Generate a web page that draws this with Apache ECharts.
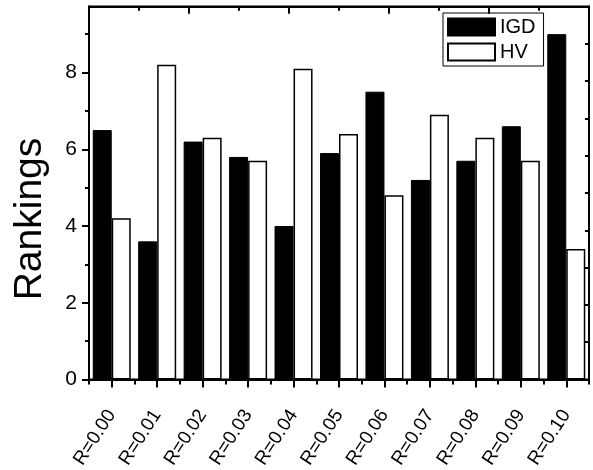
<!DOCTYPE html>
<html>
<head>
<meta charset="utf-8">
<script src="https://cdn.jsdelivr.net/npm/echarts@6/dist/echarts.min.js"></script>
<style>
html,body{margin:0;padding:0;background:#fff;}
#chart{width:593px;height:470px;}
</style>
</head>
<body>
<div id="chart"></div>
<script>
const categories = ['R=0.00','R=0.01','R=0.02','R=0.03','R=0.04','R=0.05','R=0.06','R=0.07','R=0.08','R=0.09','R=0.10'];
const igd = [6.5, 3.6, 6.2, 5.8, 4.0, 5.9, 7.5, 5.2, 5.7, 6.6, 9.0];
const hv  = [4.2, 8.2, 6.3, 5.7, 8.1, 6.4, 4.8, 6.9, 6.3, 5.7, 3.4];
const yMajorTicks = [0, 2, 4, 6, 8];
const yMinorTicks = [1, 3, 5, 7, 9];
const topMajorTicks = [2, 4, 6, 8];
const topMinorTicks = [1, 3, 5, 7, 9];
const yName = 'Rankings';

const FONT = "'Liberation Sans', Arial, Helvetica, sans-serif";
const chart = echarts.init(document.getElementById('chart'), null, {renderer: 'canvas'});
const lineStyle = {color: '#000', width: 2};
const Y_MAX = 9.72;

const titleGraphic = {
  id: 'ytitle', type: 'text',
  x: 30, y: 219,
  rotation: Math.PI / 2,
  style: {text: yName, fontSize: 39, fontFamily: FONT, fill: '#000', textAlign: 'center', textVerticalAlign: 'middle'}
};

chart.setOption({
  animation: false,
  backgroundColor: '#fff',
  textStyle: {fontFamily: FONT, color: '#000'},
  grid: {left: 89, right: 4, top: 6.5, bottom: 90.5, containLabel: false, outerBoundsMode: 'none',
         show: true, borderColor: '#000', borderWidth: 2, backgroundColor: 'transparent'},
  legend: {
    orient: 'vertical',
    left: 443, top: 13,
    borderColor: '#000', borderWidth: 1, borderRadius: 0,
    padding: [4, 8, 4, 4],
    itemWidth: 47, itemHeight: 17, itemGap: 5,
    icon: 'rect',
    textStyle: {fontFamily: FONT, fontSize: 20, color: '#000', padding: [0, 0, 0, 0]},
    data: ['IGD', 'HV']
  },
  xAxis: [
    {
      type: 'category', data: categories, position: 'bottom', z: 10,
      axisLine: {show: true, onZero: false, lineStyle: lineStyle},
      axisTick: {show: true, alignWithLabel: true, interval: 0, length: 8, lineStyle: lineStyle},
      axisLabel: {interval: 0, rotate: 57, fontSize: 19, fontFamily: FONT, color: '#000', margin: 32},
      splitLine: {show: false}
    },
    {
      type: 'category', data: categories, position: 'bottom', z: 10,
      axisLine: {show: false, onZero: false},
      axisTick: {show: true, interval: 0, length: 5, lineStyle: lineStyle},
      axisLabel: {show: false},
      splitLine: {show: false}
    },
    {
      type: 'value', position: 'top', min: 0, max: 10, interval: 2, z: 10,
      axisLine: {show: true, onZero: false, lineStyle: lineStyle},
      axisTick: {show: true, inside: true, length: 7, lineStyle: lineStyle},
      minorTick: {show: true, splitNumber: 2, length: 4, lineStyle: {color: '#000', width: 2}},
      axisLabel: {show: false},
      splitLine: {show: false}
    }
  ],
  yAxis: [
    {
      type: 'value', position: 'left', min: 0, max: Y_MAX, z: 10,
      axisLine: {show: true, onZero: false, lineStyle: lineStyle},
      axisTick: {show: true, length: 7, lineStyle: lineStyle, customValues: yMajorTicks},
      axisLabel: {fontSize: 21, fontFamily: FONT, color: '#000', margin: 12, customValues: yMajorTicks},
      splitLine: {show: false}
    },
    {
      type: 'value', position: 'left', min: 0, max: Y_MAX, z: 10,
      axisLine: {show: false, onZero: false},
      axisTick: {show: true, length: 4, lineStyle: lineStyle, customValues: yMinorTicks},
      axisLabel: {show: false},
      splitLine: {show: false}
    },
    {
      type: 'value', position: 'right', min: 0, max: 10, interval: 1, z: 10,
      axisLine: {show: true, onZero: false, lineStyle: lineStyle},
      axisTick: {show: true, inside: true, length: 4, lineStyle: lineStyle},
      axisLabel: {show: false},
      splitLine: {show: false}
    }
  ],
  graphic: [titleGraphic],
  series: [
    {
      name: 'IGD', type: 'bar', xAxisIndex: 0, yAxisIndex: 0,
      data: igd, barWidth: 19, barGap: '0%',
      itemStyle: {color: '#000', borderColor: '#000', borderWidth: 1}
    },
    {
      name: 'HV', type: 'bar', xAxisIndex: 0, yAxisIndex: 0,
      data: hv, barWidth: 19, barGap: '0%',
      itemStyle: {color: '#fff', borderColor: '#000', borderWidth: 1.5}
    }
  ]
});

// top-edge ticks, positioned through the top axis' own scale
try {
  let topY = chart.convertToPixel({yAxisIndex: 2}, 10);
  if (!isFinite(topY)) topY = 6.5;
  const tickEls = [];
  const addTicks = (vals, len) => vals.forEach((v, i) => {
    let px = chart.convertToPixel({xAxisIndex: 2}, v);
    if (Array.isArray(px)) px = px[0];
    if (!isFinite(px)) return;
    tickEls.push({
      id: 'tt' + len + '_' + i, type: 'line', z: 100, zlevel: 0,
      shape: {x1: px, y1: topY, x2: px, y2: topY + len},
      style: {stroke: '#000', lineWidth: 2}
    });
  });
  addTicks(topMajorTicks, 7);
  addTicks(topMinorTicks, 4);
  chart.setOption({graphic: [titleGraphic].concat(tickEls)});
} catch (e) {}
</script>
</body>
</html>
